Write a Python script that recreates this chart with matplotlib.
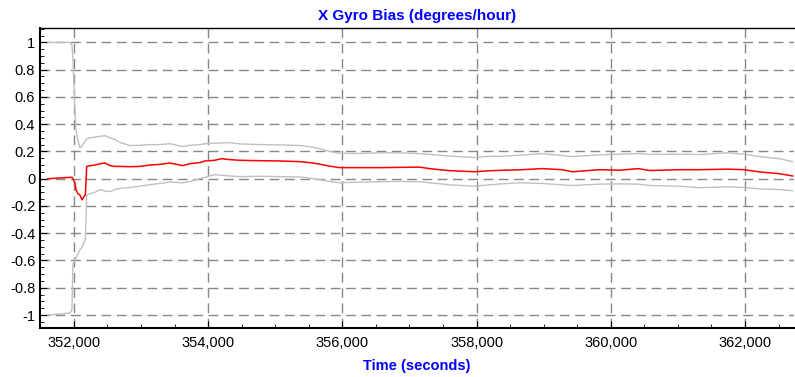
import numpy as np
import matplotlib
matplotlib.use('Agg')
import matplotlib.pyplot as plt
from matplotlib.ticker import MultipleLocator, FuncFormatter

plt.rcParams['font.family'] = ['Liberation Sans', 'DejaVu Sans']
plt.rcParams['axes.unicode_minus'] = False

# time (s) and the bias with its upper / lower bounds
t = [351613, 351940, 351970, 351985, 352015, 352030, 352060, 352090, 352120, 352150,
     352170, 352190, 352240, 352310, 352390, 352460, 352540, 352610, 352690, 352830,
     352980, 353130, 353280, 353430, 353620, 353730, 353880, 353950, 354100, 354200,
     354320, 354470, 354770, 355070, 355370, 355510, 355660, 355810, 355960, 356260,
     356560, 356850, 357150, 357300, 357450, 357600, 357970, 358190, 358340, 358640,
     358980, 359270, 359430, 359830, 360130, 360410, 360580, 361020, 361320, 361740,
     361990, 362210, 362510, 362710]

bias = [0.0, 0.01, 0.01, 0.0, -0.03, -0.08, -0.11, -0.12, -0.155, -0.13,
        -0.12, 0.09, 0.095, 0.10, 0.11, 0.115, 0.096, 0.09, 0.09, 0.088,
        0.09, 0.10, 0.105, 0.115, 0.096, 0.11, 0.118, 0.13, 0.135, 0.147,
        0.14, 0.135, 0.132, 0.13, 0.125, 0.118, 0.107, 0.092, 0.081, 0.081,
        0.081, 0.083, 0.085, 0.074, 0.066, 0.059, 0.051, 0.058, 0.061, 0.065,
        0.074, 0.066, 0.051, 0.066, 0.062, 0.074, 0.060, 0.066, 0.066, 0.07,
        0.066, 0.05, 0.037, 0.02]

upper = [1.0, 1.0, 0.98, 0.88, 0.50, 0.36, 0.28, 0.228, 0.24, 0.26,
         0.28, 0.29, 0.30, 0.305, 0.31, 0.316, 0.30, 0.287, 0.265, 0.243,
         0.245, 0.25, 0.25, 0.257, 0.235, 0.245, 0.25, 0.257, 0.26, 0.262,
         0.265, 0.255, 0.25, 0.248, 0.243, 0.235, 0.22, 0.20, 0.186, 0.185,
         0.19, 0.19, 0.184, 0.178, 0.172, 0.166, 0.155, 0.165, 0.164, 0.172,
         0.184, 0.17, 0.162, 0.175, 0.18, 0.184, 0.178, 0.18, 0.177, 0.19,
         0.18, 0.162, 0.147, 0.125]

lower = [-1.0, -0.985, -0.96, -0.63, -0.59, -0.58, -0.55, -0.52, -0.50, -0.47,
         -0.44, -0.12, -0.11, -0.10, -0.08, -0.09, -0.095, -0.08, -0.07, -0.065,
         -0.055, -0.044, -0.035, -0.025, -0.03, -0.02, 0.0, 0.01, 0.03, 0.025,
         0.02, 0.015, 0.018, 0.015, 0.0125, 0.005, -0.007, -0.02, -0.03, -0.025,
         -0.022, -0.02, -0.022, -0.03, -0.037, -0.045, -0.055, -0.045, -0.039, -0.03,
         -0.035, -0.045, -0.05, -0.04, -0.038, -0.04, -0.05, -0.055, -0.066, -0.06,
         -0.065, -0.074, -0.08, -0.088]

fig = plt.figure(figsize=(7.95, 3.77), dpi=100)
ax = fig.add_axes([0.0503, 0.130, 0.949, 0.796])

ax.plot(t, upper, color='#C0C0C0', lw=1)
ax.plot(t, lower, color='#C0C0C0', lw=1)
ax.plot(t, bias, color='#FF0000', lw=1.1)

ax.set_xlim(351494, 362737)
ax.set_ylim(-1.095, 1.106)

ax.xaxis.set_major_locator(MultipleLocator(2000))
ax.xaxis.set_minor_locator(MultipleLocator(500))
ax.yaxis.set_major_locator(MultipleLocator(0.2))
ax.yaxis.set_minor_locator(MultipleLocator(0.05))
ax.xaxis.set_major_formatter(FuncFormatter(lambda v, p: f'{v:,.0f}'))
ax.yaxis.set_major_formatter(FuncFormatter(lambda v, p: f'{round(v, 1):g}'))

ax.tick_params(which='both', direction='in', labelsize=10.5, colors='black')
ax.tick_params(axis='x', which='major', pad=6)
ax.tick_params(which='major', length=5)
ax.tick_params(which='minor', length=3)

ax.grid(True, which='major', color='#888888', linestyle=(0, (7, 4)), lw=1)

for s in ['left', 'bottom']:
    ax.spines[s].set_linewidth(1.5)
ax.spines['top'].set_linewidth(1)
ax.spines['right'].set_visible(False)

ax.set_title('X Gyro Bias (degrees/hour)', color='#0000FF', fontweight='bold',
             fontsize=11, pad=6)
ax.set_xlabel('Time (seconds)', color='#0000FF', fontweight='bold', fontsize=10.5,
              labelpad=6)

fig.savefig('out.png', dpi=100)
